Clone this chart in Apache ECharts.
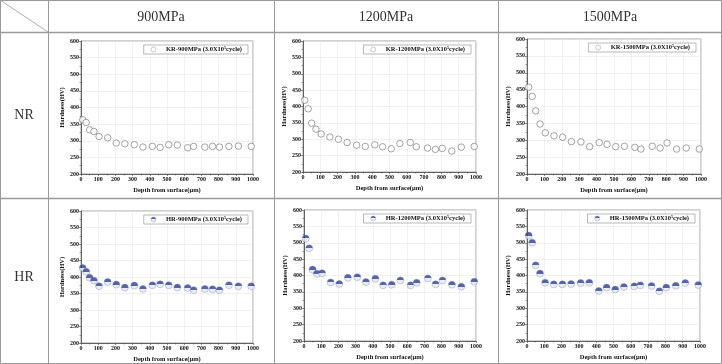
<!DOCTYPE html>
<html>
<head>
    <meta charset="UTF-8">
    <title></title>
    <style>
        body { margin: 0; background: #fff; }
        #container { width: 722px; height: 364px; }
    </style>
</head>
<body>
    <div id="container"></div>
    <script type="text/javascript" src="https://cdn.jsdelivr.net/npm/echarts@6/dist/echarts.min.js"></script>
    <script>
        // measurement depths (um), same for all six tests
        var depths = [10, 30, 50, 75, 105, 155, 205, 255, 310, 360, 415, 460, 510, 560, 620, 655, 720, 765, 805, 860, 915, 990];

        var kr900  = [363, 355, 333, 328, 313, 309, 293, 291, 288, 281, 283, 280, 288, 287, 279, 283, 281, 283, 281, 283, 284, 283];
        var kr1200 = [419, 393, 349, 331, 316, 307, 300, 290, 282, 278, 283, 277, 271, 287, 290, 277, 273, 269, 272, 264, 276, 278];
        var kr1500 = [457, 430, 387, 348, 322, 313, 309, 296, 295, 281, 293, 288, 281, 282, 279, 274, 282, 277, 292, 274, 277, 274];
        var hr900  = [427, 416, 398, 389, 372, 385, 377, 368, 374, 364, 375, 378, 375, 368, 367, 360, 364, 363, 360, 375, 372, 372];
        var hr1200 = [513, 483, 418, 405, 407, 379, 374, 393, 395, 380, 390, 370, 372, 385, 370, 378, 391, 373, 385, 372, 366, 381];
        var hr1500 = [522, 500, 431, 406, 378, 373, 373, 374, 377, 378, 353, 363, 357, 365, 367, 370, 368, 352, 363, 369, 377, 371];

        var pressures = ['900MPa', '1200MPa', '1500MPa'];
        var rowNames = ['NR', 'HR'];
        var seriesNames = ['KR-900MPa', 'KR-1200MPa', 'KR-1500MPa', 'HR-900MPa', 'HR-1200MPa', 'HR-1500MPa'];
        var seriesData = [kr900, kr1200, kr1500, hr900, hr1200, hr1500];

        // plot boxes [left, top, width, height]
        var boxes = [
            [81, 41, 172, 133], [303, 41, 173, 131], [527, 39, 174, 135],
            [81, 211, 172, 133], [304, 210, 172, 131], [527, 210, 173, 131]
        ];

        var serif = 'Liberation Serif';
        var lineCol = '#9a9a9a';

        function pairs(arr) {
            return depths.map(function (d, i) { return [d, arr[i]]; });
        }

        var hrFill = {
            type: 'linear', x: 0, y: 0, x2: 0, y2: 1,
            colorStops: [
                {offset: 0, color: '#2c3c98'}, {offset: 0.5, color: '#2c3c98'},
                {offset: 0.5, color: '#e6eaf7'}, {offset: 1, color: '#e6eaf7'}
            ]
        };

        var grids = [], xAxes = [], yAxes = [], series = [], legends = [];
        boxes.forEach(function (b, i) {
            grids.push({
                left: b[0], top: b[1], width: b[2], height: b[3],
                show: true, borderColor: '#8a8a8a', borderWidth: 0.8
            });
            xAxes.push({
                gridIndex: i, type: 'value', min: 0, max: 1000, interval: 100,
                name: 'Depth from surface(\u03bcm)', nameLocation: 'middle', nameGap: 13,
                nameTextStyle: {fontFamily: serif, fontSize: 6.5, fontWeight: 'bold', color: '#111'},
                axisLine: {lineStyle: {color: '#444', width: 0.8}},
                axisTick: {length: 2, lineStyle: {color: '#444', width: 0.6}},
                minorTick: {show: true, splitNumber: 2, length: 1.5, lineStyle: {color: '#444', width: 0.5}},
                axisLabel: {fontFamily: serif, fontSize: 6, fontWeight: 'bold', color: '#111', margin: 2,
                    formatter: function (v) { return String(v); }},
                splitLine: {show: true, lineStyle: {color: '#e8e8e8', width: 0.6}}
            });
            yAxes.push({
                gridIndex: i, type: 'value', min: 200, max: 600, interval: 50,
                name: 'Hardness(HV)', nameLocation: 'middle', nameGap: 15,
                nameTextStyle: {fontFamily: serif, fontSize: 6.5, fontWeight: 'bold', color: '#111'},
                axisLine: {show: true, lineStyle: {color: '#444', width: 0.8}},
                axisTick: {show: true, length: 2, lineStyle: {color: '#444', width: 0.6}},
                minorTick: {show: true, splitNumber: 2, length: 1.5, lineStyle: {color: '#444', width: 0.5}},
                axisLabel: {fontFamily: serif, fontSize: 6, fontWeight: 'bold', color: '#111', margin: 2},
                splitLine: {show: true, lineStyle: {color: '#e8e8e8', width: 0.6}}
            });
            var isHR = i >= 3;
            series.push({
                name: seriesNames[i], type: 'scatter', xAxisIndex: i, yAxisIndex: i,
                symbol: 'circle', symbolSize: isHR ? 7 : 6.5,
                itemStyle: isHR
                    ? {color: hrFill, borderColor: '#7584c4', borderWidth: 0.5}
                    : {color: '#fff', borderColor: '#707070', borderWidth: 0.8},
                data: pairs(seriesData[i])
            });
            legends.push({
                data: [seriesNames[i]],
                right: 722 - (b[0] + b[2]) + 5, top: b[1] + 4,
                orient: 'horizontal',
                backgroundColor: '#fff', borderColor: '#8a8a8a', borderWidth: 0.6,
                padding: [1, 6, 1, 7], itemWidth: 5, itemHeight: 5, itemGap: 2,
                itemStyle: isHR
                    ? {color: hrFill, borderColor: '#7584c4', borderWidth: 0.5}
                    : {color: '#fff', borderColor: '#909090', borderWidth: 0.6},
                formatter: function (n) { return '{a|' + n + ' (3.0X10}{s|5}{a|cycle)}'; },
                textStyle: {
                    fontFamily: serif, fontSize: 6.5, fontWeight: 'bold', color: '#111', padding: [0, 0, 0, 5],
                    rich: {
                        a: {fontFamily: serif, fontSize: 6.5, fontWeight: 'bold', color: '#111'},
                        s: {fontFamily: serif, fontSize: 4, fontWeight: 'bold', color: '#111', verticalAlign: 'top', padding: [0, 0, 3, 0]}
                    }
                }
            });
        });

        // table frame
        var cols = [48, 274, 498];
        var rows = [32, 198];
        var graphics = [
            {type: 'rect', shape: {x: 0.5, y: 0.5, width: 721, height: 363}, style: {fill: 'none', stroke: lineCol, lineWidth: 1}},
            {type: 'line', shape: {x1: 0, y1: 0, x2: cols[0], y2: rows[0]}, style: {stroke: lineCol, lineWidth: 0.8}}
        ];
        cols.forEach(function (c) {
            graphics.push({type: 'line', shape: {x1: c + 0.5, y1: 0, x2: c + 0.5, y2: 364}, style: {stroke: lineCol, lineWidth: 1}});
        });
        rows.forEach(function (r) {
            graphics.push({type: 'line', shape: {x1: 0, y1: r + 0.5, x2: 722, y2: r + 0.5}, style: {stroke: lineCol, lineWidth: 1.5}});
        });
        pressures.forEach(function (p, i) {
            var x0 = cols[i], x1 = i < 2 ? cols[i + 1] : 722;
            graphics.push({type: 'text', x: (x0 + x1) / 2, y: rows[0] / 2 + 1,
                style: {text: p, fontFamily: serif, fontSize: 14, fill: '#333', align: 'center', verticalAlign: 'middle'}});
        });
        rowNames.forEach(function (n, i) {
            var y0 = rows[i], y1 = i < 1 ? rows[i + 1] : 364;
            graphics.push({type: 'text', x: cols[0] / 2, y: (y0 + y1) / 2 - (i ? 4 : 0),
                style: {text: n, fontFamily: serif, fontSize: 14, fill: '#333', align: 'center', verticalAlign: 'middle'}});
        });

        var myChart = echarts.init(document.getElementById('container'));
        myChart.setOption({
            animation: false,
            grid: grids,
            xAxis: xAxes,
            yAxis: yAxes,
            legend: legends,
            graphic: graphics,
            series: series
        });
    </script>
</body>
</html>
